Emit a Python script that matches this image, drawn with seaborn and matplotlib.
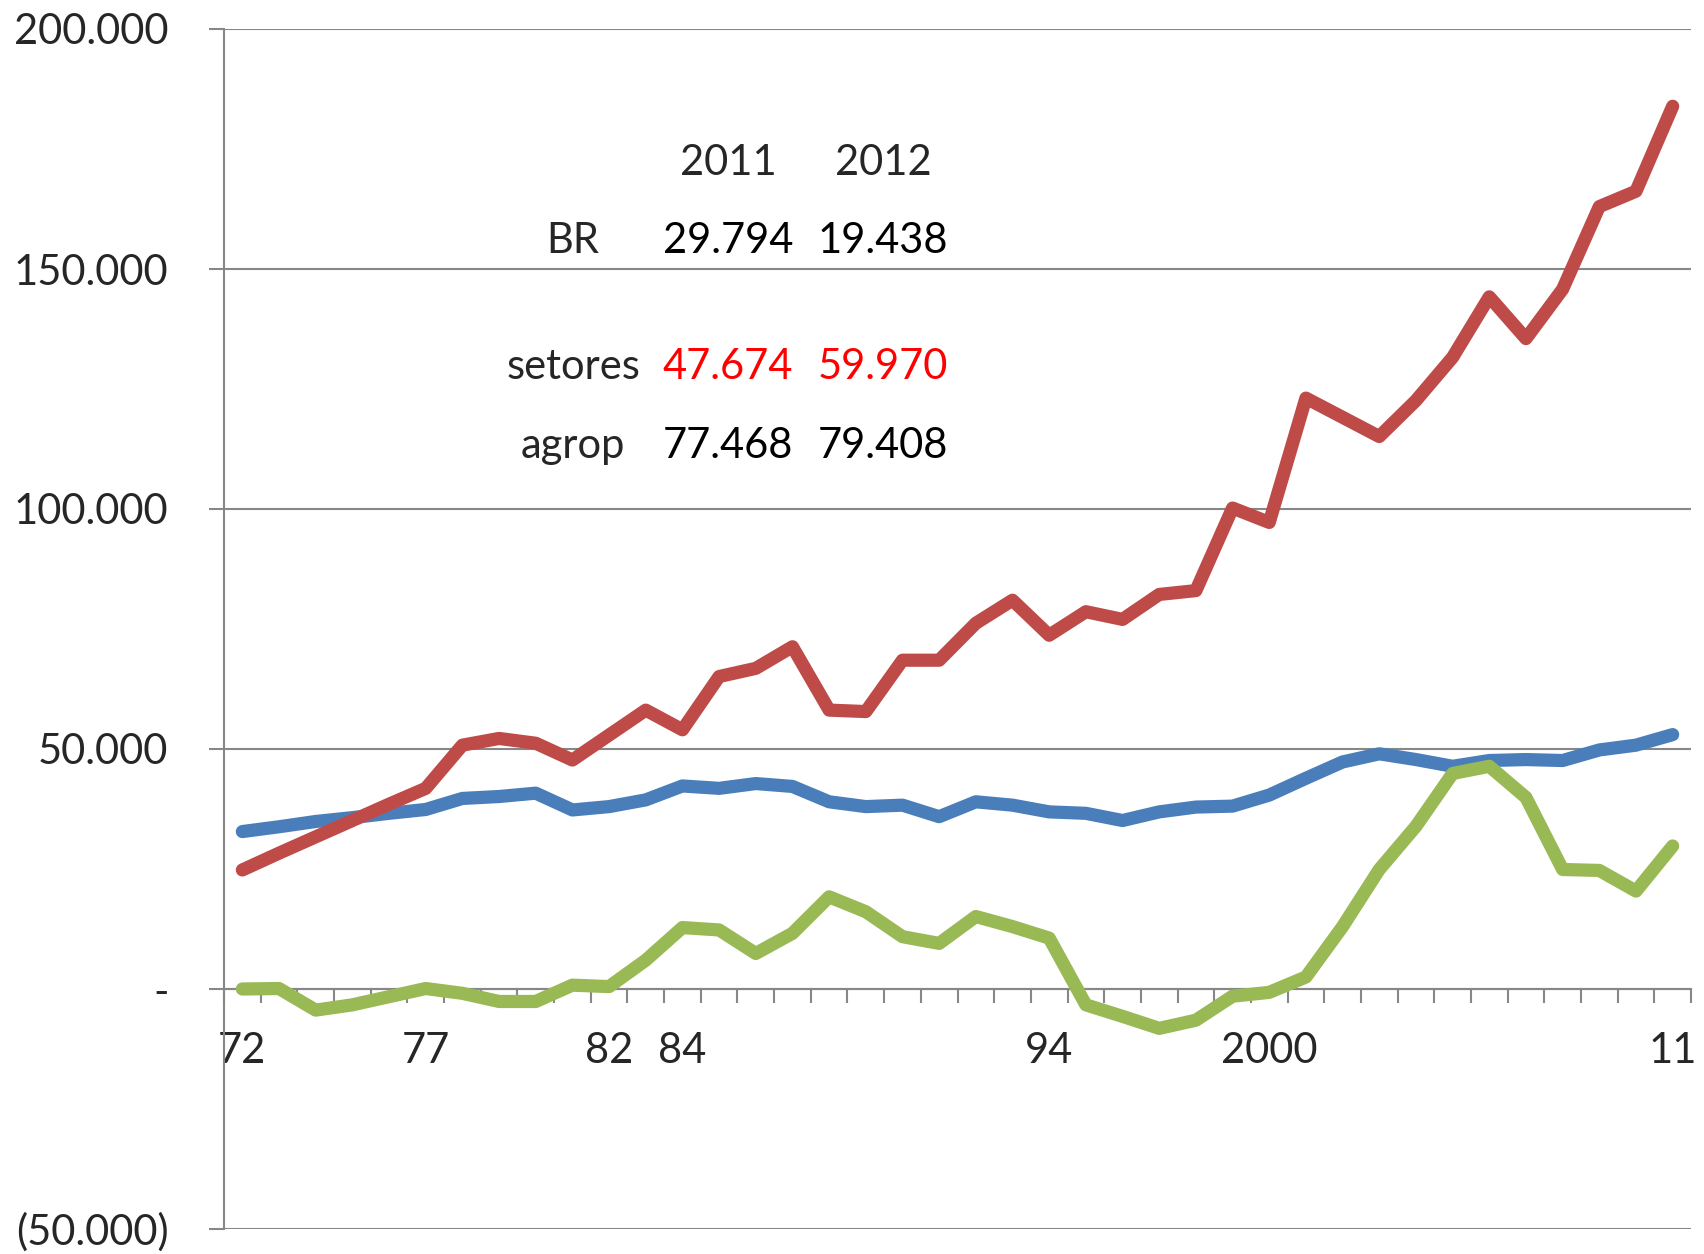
import numpy as np
import pandas as pd
import seaborn as sns
import matplotlib.pyplot as plt
from matplotlib.ticker import FuncFormatter

# Series (1972-2011)
years = list(range(1972, 2012))

blue_vals = [32800, 33800, 34900, 35700, 36600, 37400, 39700, 40100, 40800, 37300,
             38000, 39400, 42300, 41800, 42800, 42200, 39000, 38000, 38300, 35900,
             39000, 38300, 36900, 36600, 35100, 36900, 37900, 38100, 40400, 43900,
             47300, 49000, 47800, 46400, 47600, 47800, 47600, 49800, 50800, 53000]

red_vals = [24800, 28300, 31700, 35100, 38500, 41800, 50800, 52200, 51200, 47700,
            52900, 58100, 54000, 65100, 66800, 71300, 58100, 57800, 68500, 68500,
            76200, 81000, 73700, 78600, 77000, 82200, 83000, 100200, 97200, 123100,
            119100, 115100, 122600, 131600, 144200, 135500, 145800, 163000, 166200, 183900]

green_vals = [0, 100, -4400, -3300, -1600, 100, -900, -2600, -2600, 800,
              500, 6000, 12800, 12300, 7400, 11600, 19200, 16100, 10900, 9500,
              15100, 13000, 10600, -3300, -5700, -8200, -6500, -1500, -700, 2500,
              13000, 24900, 33900, 44900, 46400, 39900, 24900, 24700, 20400, 29794]

series_names = ['serie_azul', 'serie_vermelha', 'BR']
palette = {'serie_azul': '#4A7EBB', 'serie_vermelha': '#BE4B48', 'BR': '#98B954'}

tick_years = [1972, 1977, 1982, 1984, 1994, 2000, 2011]
tick_labels = ['72', '77', '82', '84', '94', '2000', '11']

# small table written on the chart
table_cols = ['', '2011', '2012']
table_rows = ['BR', 'setores', 'agrop']
table_2011 = ['29.794', '47.674', '77.468']
table_2012 = ['19.438', '59.970', '79.408']
table_colors = ['black', 'red', 'black']

df = pd.DataFrame({
    'ano': years * 3,
    'valor': blue_vals + red_vals + green_vals,
    'serie': [s for s in series_names for _ in years],
})

sns.set_style('white')
plt.rcParams['font.family'] = ['Lato', 'DejaVu Sans']

fig = plt.figure(figsize=(17.04, 12.54), dpi=100, facecolor='white')
ax = fig.add_axes([224 / 1704, 1 - 1229 / 1254, (1691 - 224) / 1704, (1229 - 29) / 1254])

grey = '#878787'
ax.set_ylim(-50000, 200000)
ax.set_xlim(1971.5, 2011.5)
ax.set_yticks([-50000, 0, 50000, 100000, 150000, 200000])
ax.yaxis.grid(True, color=grey, linewidth=1.5)
ax.set_axisbelow(True)

sns.lineplot(data=df, x='ano', y='valor', hue='serie', hue_order=series_names,
             palette=palette, legend=False, ax=ax, zorder=3)
for line in ax.get_lines():
    line.set_linewidth(9.5)
    line.set_solid_capstyle('round')
    line.set_solid_joinstyle('round')


def fmt(v, pos):
    if v == 0:
        return '-'
    s = f'{abs(v):,.0f}'.replace(',', '.')
    return f'({s})' if v < 0 else s


ax.yaxis.set_major_formatter(FuncFormatter(fmt))
ax.set_xticks(tick_years)
ax.set_xticklabels(tick_labels)
ax.set_xticks(np.arange(1971.5, 2012, 1), minor=True)
ax.set_xlabel('')
ax.set_ylabel('')

for side in ['top', 'right']:
    ax.spines[side].set_visible(False)
ax.spines['left'].set_color(grey)
ax.spines['left'].set_linewidth(1.5)
ax.spines['bottom'].set_position(('data', 0))
ax.spines['bottom'].set_color(grey)
ax.spines['bottom'].set_linewidth(1.5)
ax.spines['bottom'].set_zorder(2)

ax.tick_params(axis='y', direction='out', length=11, width=1.5, color=grey,
               labelsize=30, pad=29, left=True)
ax.tick_params(axis='x', which='major', length=0, labelsize=30, pad=31)
ax.tick_params(axis='x', which='minor', direction='out', length=10, width=1.5,
               color=grey, bottom=True)

# table text
col_x = [573, 728, 883]
row_y = [253, 379, 458]
for j, lab in enumerate(table_cols):
    if lab:
        fig.text(col_x[j] / 1704, 1 - 175 / 1254, lab, ha='center', va='baseline', fontsize=30)
for i in range(3):
    y = 1 - row_y[i] / 1254
    fig.text(col_x[0] / 1704, y, table_rows[i], ha='center', va='baseline', fontsize=30)
    fig.text(col_x[1] / 1704, y, table_2011[i], ha='center', va='baseline', fontsize=30,
             color=table_colors[i])
    fig.text(col_x[2] / 1704, y, table_2012[i], ha='center', va='baseline', fontsize=30,
             color=table_colors[i])

fig.savefig('out.png', dpi=100, facecolor='white')
